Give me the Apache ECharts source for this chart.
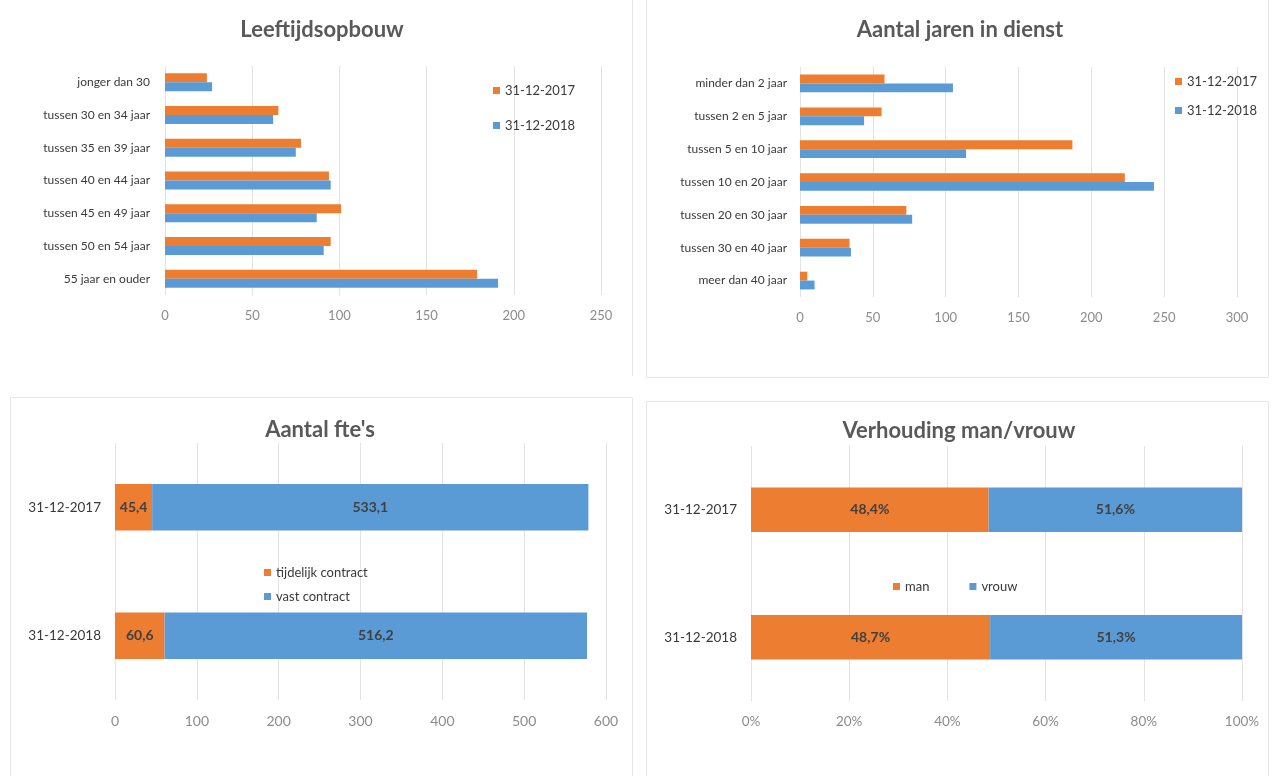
<!DOCTYPE html>
<html>
<head>
<meta charset="utf-8">
<title>Personeel</title>
<script src="https://cdn.jsdelivr.net/npm/echarts@6/dist/echarts.min.js"></script>
<style>
html, body { margin: 0; padding: 0; background: #fff; }
#main { width: 1273px; height: 776px; }
</style>
</head>
<body>
<div id="main"></div>
<script type="text/javascript">
// gegevens
var leeftijdCat = ['jonger dan 30', 'tussen 30 en 34 jaar', 'tussen 35 en 39 jaar', 'tussen 40 en 44 jaar', 'tussen 45 en 49 jaar', 'tussen 50 en 54 jaar', '55 jaar en ouder'];
var leeftijd2017 = [24, 65, 78, 94, 101, 95, 179];
var leeftijd2018 = [27, 62, 75, 95, 87, 91, 191];

var dienstCat = ['minder dan 2 jaar', 'tussen 2 en 5 jaar', 'tussen 5 en 10 jaar', 'tussen 10 en 20 jaar', 'tussen 20 en 30 jaar', 'tussen 30 en 40 jaar', 'meer dan 40 jaar'];
var dienst2017 = [58, 56, 187, 223, 73, 34, 5];
var dienst2018 = [105, 44, 114, 243, 77, 35, 10];

var datums = ['31-12-2017', '31-12-2018'];
var fteTijdelijk = [45.4, 60.6];
var fteVast = [533.1, 516.2];

var man = [48.4, 48.7];
var vrouw = [51.6, 51.3];

var oranje = '#ED7D31';
var blauw = '#5B9BD5';
var font = 'Lato, "Open Sans", sans-serif';

function komma(v) { return String(v).replace('.', ','); }

function catAxis(gi, data, margin, size) {
    return {
        type: 'category', gridIndex: gi, data: data, inverse: true,
        axisLine: { show: false }, axisTick: { show: false },
        axisLabel: { color: '#3a3a3a', fontSize: size, fontFamily: font, margin: margin }
    };
}
function valAxis(gi, max, interval, size, fmt) {
    return {
        type: 'value', gridIndex: gi, min: 0, max: max, interval: interval,
        axisLine: { show: false }, axisTick: { show: false },
        splitLine: { lineStyle: { color: '#e3e3e3' } },
        axisLabel: { color: '#8c8c8c', fontSize: size, fontFamily: font, margin: 14, formatter: fmt || '{value}' }
    };
}
function titel(tekst, x, y) {
    return { text: tekst, left: x, top: y, textAlign: 'center', padding: 0,
        textStyle: { color: '#595959', fontSize: 22, fontWeight: 'bold', fontFamily: font } };
}
function legTekst(size) { return { color: '#3a3a3a', fontSize: size, fontFamily: font }; }
function barLabel(suffix) {
    return { show: true, position: 'inside', color: '#404040', fontSize: 14, fontWeight: 'bold', fontFamily: font,
             formatter: function (p) { return komma(p.value) + suffix; } };
}

var myChart = echarts.init(document.getElementById('main'));

var option = {
    animation: false,
    backgroundColor: '#fff',
    title: [
        titel('Leeftijdsopbouw', 322, 19),
        titel('Aantal jaren in dienst', 960, 19),
        titel("Aantal fte's", 320, 419),
        titel('Verhouding man/vrouw', 959, 420)
    ],
    legend: [
        { data: ['31-12-2017', '31-12-2018'], orient: 'vertical', left: 493, top: 84, itemGap: 22,
          itemWidth: 7, itemHeight: 7, icon: 'rect', textStyle: legTekst(13), padding: 0 },
        { data: [{ name: '31-12-2017 ' }, { name: '31-12-2018 ' }], orient: 'vertical', left: 1175, top: 75, itemGap: 16,
          itemWidth: 7, itemHeight: 7, icon: 'rect', textStyle: legTekst(13), padding: 0 },
        { data: ['tijdelijk contract', 'vast contract'], orient: 'vertical', left: 264, top: 566, itemGap: 11,
          itemWidth: 7, itemHeight: 7, icon: 'rect', textStyle: legTekst(13), padding: 0 },
        { data: ['man', 'vrouw'], orient: 'horizontal', left: 893, top: 580, itemGap: 40,
          itemWidth: 7, itemHeight: 7, icon: 'rect', textStyle: legTekst(13), padding: 0 }
    ],
    grid: [
        { left: 165, top: 66, width: 436, height: 229 },
        { left: 800, top: 67, width: 437, height: 230 },
        { left: 115, top: 443, width: 491, height: 257 },
        { left: 751, top: 446, width: 491, height: 255 }
    ],
    yAxis: [
        catAxis(0, leeftijdCat, 15, 12),
        catAxis(1, dienstCat, 13, 12),
        catAxis(2, datums, 14, 13.5),
        catAxis(3, datums, 14, 13.5)
    ],
    xAxis: [
        valAxis(0, 250, 50, 13),
        valAxis(1, 300, 50, 13),
        valAxis(2, 600, 100, 14),
        valAxis(3, 100, 20, 13.5, '{value}%')
    ],
    graphic: [
        { type: 'line', shape: { x1: 632.5, y1: 0, x2: 632.5, y2: 376 }, style: { stroke: '#e6e6e6', lineWidth: 1 } },
        { type: 'polyline', shape: { points: [[646.5, 0], [646.5, 377.5], [1268.5, 377.5], [1268.5, 0]] }, style: { stroke: '#e6e6e6', lineWidth: 1, fill: null } },
        { type: 'polyline', shape: { points: [[10.5, 776], [10.5, 397.5], [632.5, 397.5], [632.5, 776]] }, style: { stroke: '#e6e6e6', lineWidth: 1, fill: null } },
        { type: 'polyline', shape: { points: [[646.5, 776], [646.5, 401.5], [1268.5, 401.5], [1268.5, 776]] }, style: { stroke: '#e6e6e6', lineWidth: 1, fill: null } }
    ],
    series: [
        { name: '31-12-2017', type: 'bar', xAxisIndex: 0, yAxisIndex: 0, data: leeftijd2017,
          itemStyle: { color: oranje }, barGap: '0%', barCategoryGap: '45%' },
        { name: '31-12-2018', type: 'bar', xAxisIndex: 0, yAxisIndex: 0, data: leeftijd2018,
          itemStyle: { color: blauw }, barGap: '0%', barCategoryGap: '45%' },

        { name: '31-12-2017 ', type: 'bar', xAxisIndex: 1, yAxisIndex: 1, data: dienst2017,
          itemStyle: { color: oranje }, barGap: '0%', barCategoryGap: '46%' },
        { name: '31-12-2018 ', type: 'bar', xAxisIndex: 1, yAxisIndex: 1, data: dienst2018,
          itemStyle: { color: blauw }, barGap: '0%', barCategoryGap: '46%' },

        { name: 'tijdelijk contract', type: 'bar', stack: 'fte', xAxisIndex: 2, yAxisIndex: 2, data: fteTijdelijk,
          itemStyle: { color: oranje }, barCategoryGap: '64%', label: barLabel('') },
        { name: 'vast contract', type: 'bar', stack: 'fte', xAxisIndex: 2, yAxisIndex: 2, data: fteVast,
          itemStyle: { color: blauw }, barCategoryGap: '64%', label: barLabel('') },

        { name: 'man', type: 'bar', stack: 'mv', xAxisIndex: 3, yAxisIndex: 3, data: man,
          itemStyle: { color: oranje }, barCategoryGap: '65%', label: barLabel('%') },
        { name: 'vrouw', type: 'bar', stack: 'mv', xAxisIndex: 3, yAxisIndex: 3, data: vrouw,
          itemStyle: { color: blauw }, barCategoryGap: '65%', label: barLabel('%') }
    ]
};
myChart.setOption(option);
</script>
</body>
</html>
